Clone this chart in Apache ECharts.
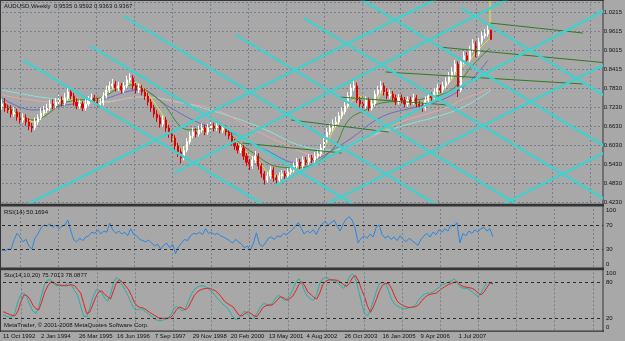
<!DOCTYPE html>
<html>
<head>
<meta charset="utf-8">
<script src="https://cdn.jsdelivr.net/npm/echarts@6/dist/echarts.min.js"></script>
<style>
  html, body { margin: 0; padding: 0; background: #a8a8a8; }
  #chart { width: 625px; height: 341px; }
</style>
</head>
<body>
<div id="chart"></div>
<script>
// weekly AUDUSD, one candle every 5 weeks, x = weeks since 11 Oct 1992
const dateLabels = ['11 Oct 1992', '2 Jan 1994', '26 Mar 1995', '16 Jun 1996', '7 Sep 1997', '29 Nov 1998',
  '20 Feb 2000', '13 May 2001', '4 Aug 2002', '26 Oct 2003', '16 Jan 2005', '9 Apr 2006', '1 Jul 2007'];
const priceTicks = ['0.4230', '0.4830', '0.5430', '0.6030', '0.6630', '0.7230', '0.7830', '0.8415', '0.9015', '0.9615', '1.0215'];
const rsiTicks = [0, 30, 70, 100];
const stoTicks = [0, 20, 80, 100];
const lastQuote = [0.9535, 0.9592, 0.9363, 0.9367];

const firstOpen = 0.727;
const closes = [0.733,0.720,0.714,0.701,0.708,0.692,0.682,0.689,0.676,0.663,
  0.657,0.676,0.689,0.704,0.714,0.720,0.733,0.727,0.739,0.745,
  0.736,0.752,0.771,0.758,0.739,0.727,0.733,0.720,0.733,0.745,
  0.752,0.742,0.733,0.736,0.758,0.777,0.790,0.796,0.783,0.790,
  0.777,0.790,0.809,0.815,0.790,0.777,0.783,0.771,0.758,0.739,
  0.720,0.701,0.689,0.670,0.682,0.657,0.638,0.625,0.600,0.581,
  0.562,0.587,0.613,0.632,0.644,0.638,0.651,0.657,0.644,0.657,
  0.663,0.657,0.663,0.651,0.657,0.644,0.632,0.613,0.600,0.587,
  0.594,0.568,0.549,0.537,0.556,0.568,0.537,0.512,0.493,0.505,
  0.524,0.499,0.493,0.505,0.512,0.505,0.518,0.524,0.537,0.549,
  0.537,0.556,0.549,0.562,0.556,0.568,0.575,0.594,0.619,0.644,
  0.657,0.670,0.676,0.695,0.708,0.727,0.758,0.783,0.790,0.745,
  0.733,0.727,0.745,0.720,0.733,0.764,0.777,0.790,0.771,0.758,
  0.764,0.752,0.739,0.752,0.745,0.733,0.745,0.739,0.752,0.733,
  0.727,0.720,0.745,0.758,0.752,0.771,0.783,0.777,0.790,0.802,
  0.821,0.834,0.859,0.777,0.866,0.885,0.872,0.904,0.923,0.891,
  0.929,0.948,0.954,0.967,0.9367];
const highs = [0.748,0.752,0.731,0.729,0.722,0.718,0.707,0.703,0.700,0.688,
  0.673,0.690,0.700,0.720,0.727,0.734,0.746,0.748,0.752,0.761,
  0.757,0.768,0.784,0.782,0.768,0.750,0.746,0.742,0.748,0.758,
  0.766,0.762,0.752,0.750,0.770,0.790,0.804,0.812,0.806,0.803,
  0.800,0.802,0.822,0.830,0.824,0.799,0.797,0.793,0.782,0.768,
  0.749,0.730,0.713,0.699,0.696,0.692,0.667,0.650,0.634,0.610,
  0.592,0.600,0.625,0.646,0.658,0.656,0.664,0.672,0.667,0.670,
  0.677,0.674,0.676,0.673,0.669,0.666,0.654,0.642,0.622,0.610,
  0.606,0.603,0.578,0.559,0.568,0.584,0.577,0.546,0.520,0.517,
  0.536,0.533,0.508,0.517,0.524,0.521,0.530,0.537,0.549,0.562,
  0.559,0.567,0.566,0.574,0.572,0.580,0.588,0.606,0.631,0.657,
  0.671,0.684,0.692,0.707,0.722,0.740,0.770,0.796,0.806,0.800,
  0.756,0.744,0.757,0.753,0.745,0.776,0.790,0.805,0.800,0.782,
  0.778,0.774,0.762,0.764,0.763,0.755,0.757,0.756,0.765,0.761,
  0.743,0.737,0.757,0.771,0.769,0.783,0.797,0.794,0.803,0.817,
  0.834,0.849,0.872,0.868,0.878,0.899,0.897,0.917,0.938,0.931,
  0.942,0.962,0.970,0.985,0.9592];
const lows = [0.715,0.708,0.704,0.690,0.693,0.680,0.671,0.674,0.664,0.650,
  0.643,0.650,0.667,0.682,0.696,0.705,0.712,0.716,0.719,0.730,
  0.725,0.728,0.744,0.748,0.728,0.716,0.718,0.710,0.712,0.726,
  0.738,0.732,0.722,0.724,0.728,0.750,0.768,0.782,0.772,0.774,
  0.766,0.768,0.782,0.800,0.778,0.766,0.768,0.760,0.746,0.728,
  0.708,0.690,0.676,0.658,0.661,0.645,0.626,0.612,0.588,0.566,
  0.545,0.555,0.580,0.605,0.624,0.627,0.630,0.642,0.634,0.636,
  0.648,0.646,0.648,0.640,0.642,0.633,0.621,0.602,0.588,0.576,
  0.578,0.556,0.537,0.524,0.528,0.547,0.525,0.500,0.478,0.484,
  0.496,0.487,0.478,0.484,0.496,0.494,0.497,0.509,0.516,0.529,
  0.527,0.529,0.539,0.541,0.546,0.547,0.560,0.567,0.586,0.611,
  0.635,0.648,0.660,0.668,0.686,0.700,0.720,0.750,0.774,0.736,
  0.722,0.716,0.718,0.710,0.712,0.726,0.756,0.768,0.760,0.748,
  0.750,0.742,0.729,0.731,0.735,0.722,0.724,0.729,0.731,0.722,
  0.716,0.708,0.712,0.737,0.741,0.744,0.762,0.767,0.769,0.782,
  0.795,0.813,0.826,0.755,0.770,0.858,0.862,0.865,0.896,0.880,
  0.884,0.921,0.940,0.946,0.9363];

const rsi = [28,27,30,29,45,56,50,42,46,35, 30,48,55,65,70,68,72,66,70,64,
  68,70,78,60,45,42,48,44,50,52, 58,56,62,55,60,58,73,62,56,60,
  55,58,52,64,54,52,46,44,42,45, 40,35,38,30,36,40,32,38,22,34,
  40,46,44,52,56,55,58,54,64,56, 58,54,56,52,50,47,44,40,46,42,
  38,32,35,28,40,57,38,34,40,48, 50,46,52,50,56,54,58,62,68,74,
  64,55,60,57,62,54,65,72,76,70, 74,78,68,60,72,80,84,78,64,40,
  48,52,48,55,50,66,70,54,48,52, 46,50,44,52,46,42,48,44,40,36,
  46,52,56,50,58,54,62,58,64,60, 70,68,74,40,56,52,60,56,62,58,
  64,66,60,64,50.17];
const stoMain = [26,24,22,22,30,48,60,62,55,42, 32,28,40,60,78,84,84,77,74,75,
  74,76,78,74,66,58,40,24,22,36, 54,66,68,62,54,48,60,80,88,84,
  74,66,56,44,36,34,36,34,30,26, 22,18,16,16,18,20,24,34,40,36,
  32,36,48,60,68,72,74,74,72,68, 64,58,52,46,42,38,30,22,18,20,
  28,32,26,20,20,28,38,44,44,42, 44,52,58,56,50,52,58,68,80,86,
  78,64,56,52,50,60,78,86,88,86, 84,82,80,74,70,78,90,94,86,66,
  46,28,24,34,50,66,78,80,78,66, 52,44,40,38,36,36,38,38,42,50,
  56,60,62,62,64,68,72,76,78,80, 82,86,80,72,70,70,68,64,60,56,
  62,72,80,80,75.7];
const stoSignal = [31,29,27,25,24,32,48,59,58,52, 42,36,34,48,64,74,81,80,76,75,
  75,74,75,76,74,68,62,45,28,30, 42,55,64,66,60,56,52,66,80,84,
  80,74,68,58,46,40,38,37,34,30, 27,24,21,20,20,20,21,26,34,39,
  37,34,38,48,58,64,67,69,70,70, 68,66,62,56,49,45,42,39,32,25,
  24,28,31,28,24,23,30,38,41,42, 42,46,52,56,54,50,53,57,66,76,
  81,74,64,60,55,52,62,76,82,84, 84,84,83,80,76,73,79,88,91,82,
  68,56,40,30,40,52,66,75,78,78, 70,58,48,44,41,39,38,39,39,42,
  48,54,58,60,61,62,66,70,73,76, 78,80,81,76,73,72,71,70,67,62,
  59,64,72,79,78.1];

// moving averages, [week, price]
const maAqua = [[0,0.777],[63.5,0.755],[108.6,0.745],[163.7,0.739],[235.6,0.755],[302.4,0.736],[385.9,0.692],
  [442.7,0.651],[497.8,0.603],[553,0.587],[609.8,0.628],[664.9,0.660],[748.4,0.704],[786.9,0.736],[820.3,0.777]];
const maPink = [[0,0.761],[108.6,0.736],[163.7,0.736],[230.5,0.755],[292.4,0.739],[359.2,0.714],[414.3,0.660],
  [469.4,0.610],[528,0.572],[609.8,0.619],[664.9,0.673],[748.4,0.723],[770.1,0.745],[820.3,0.783]];
const maSlate = [[0,0.752],[51.8,0.714],[108.6,0.730],[163.7,0.745],[230.5,0.777],[280.7,0.723],[330.8,0.673],
  [385.9,0.641],[442.7,0.587],[497.8,0.546],[525,0.556],[581.4,0.619],[636.5,0.692],[693.3,0.723],[748.4,0.755],
  [786.9,0.809],[815.3,0.872]];
const maGreen = [[0,0.745],[51.8,0.682],[108.6,0.739],[163.7,0.752],[213.8,0.793],[263.9,0.745],[314.1,0.651],
  [355.9,0.657],[414.3,0.587],[464.4,0.534],[497.8,0.531],[553,0.587],[581.4,0.682],[609.8,0.714],[636.5,0.736],
  [693.3,0.745],[748.4,0.771],[770.1,0.809],[786.9,0.850],[818.6,0.910]];
const maYellow = [[0,0.727],[30.1,0.695],[55.1,0.676],[80.2,0.720],[108.6,0.752],[130.3,0.739],[155.4,0.739],
  [180.4,0.777],[205.5,0.790],[222.2,0.802],[247.2,0.758],[272.3,0.689],[300.7,0.587],[322.4,0.638],[355.9,0.660],
  [380.9,0.638],[406,0.587],[431,0.549],[456.1,0.505],[481.1,0.512],[506.2,0.546],[531.3,0.568],[556.3,0.651],
  [581.4,0.727],[598.1,0.758],[623.2,0.733],[639.9,0.771],[664.9,0.752],[698.3,0.733],[723.4,0.758],[748.4,0.796],
  [765.1,0.840],[781.8,0.866],[798.5,0.904],[818.6,0.941]];

// drawn objects: turquoise channel lattice and green trend lines, [[week, price], [week, price]]
const cyanLines = [
  [[35.1,0.8719],[481.1,0.3661]],
  [[148.7,0.9162],[631.5,0.3680]],
  [[203.8,1.0111],[781.8,0.3547]],
  [[392.6,0.9510],[932.2,0.3383]],
  [[506.2,1.0047],[1065.8,0.3693]],
  [[598.1,1.0680],[1065.8,0.5368]],
  [[770.1,1.0363],[1065.8,0.6952]],
  [[30.1,0.4040],[731.7,1.0680]],
  [[289.0,0.5147],[848.7,1.0654]],
  [[459.4,0.4767],[1065.8,1.0850]],
  [[544.6,0.4167],[1065.8,0.9099]],
  [[840.3,0.4167],[1065.8,0.6317]]
];
const greenLines = [
  [[818.6,0.9889],[974.0,0.9573]],
  [[731.7,0.9131],[1015.7,0.8625]],
  [[643.2,0.8340],[974.0,0.7961]],
  [[564.7,0.7550],[748.4,0.7297]],
  [[484.5,0.6823],[648.2,0.6443]],
  [[402.6,0.6095],[569.7,0.5779]]
];
const spike = [[818.6,0.985],[818.6,1.07]];
const marker = [[847,0.7992]];

const FONT = 'Liberation Sans';
const TXT = '#111';
const candles = closes.map((c, i) => [i * 5, i ? closes[i - 1] : firstOpen, c, lows[i], highs[i]]);
const perWeek = arr => arr.map((v, i) => [i * 5, v]);

const gridLine = { color: '#76838f', type: [2, 2], width: 1 };
const levelLine = { color: '#2a2a2a', type: [3, 3], width: 1 };
const vGrid = [];
for (let k = 0; k < 16; k++) vGrid.push({ xAxis: 30 + 63.8 * k });

function gridSeries(idx, levels) {
  return {
    type: 'line', xAxisIndex: idx, yAxisIndex: idx, data: [], silent: true, z: 1,
    markLine: {
      silent: true, symbol: 'none', animation: false, label: { show: false }, lineStyle: gridLine,
      data: vGrid.concat((levels || []).map(v => ({ yAxis: v, lineStyle: levelLine })))
    }
  };
}
function lineSeries(data, color, width, z, extra) {
  return Object.assign({
    type: 'line', xAxisIndex: 0, yAxisIndex: 0, data: data, showSymbol: false, symbol: 'none',
    silent: true, z: z, lineStyle: { color: color, width: width }
  }, extra || {});
}
// MT4 keeps the 100 and 0 labels inside the sub-window, so they sit 5 units in
function insetLabel(ticks) {
  return v => {
    if (v === 95) return ticks.includes(100) ? '100' : '';
    if (v === 5) return ticks.includes(0) ? '0' : '';
    if (v === 0 || v === 100) return '';
    return ticks.includes(v) ? String(v) : '';
  };
}

const xBase = { type: 'value', min: 0, max: 1004, interval: 63.5, splitLine: { show: false },
  axisLine: { show: false }, axisTick: { show: false } };
const yLabel = { margin: 3, fontSize: 6, color: TXT, fontFamily: FONT };

const series = [
  gridSeries(0),
  gridSeries(1, [70, 30]),
  gridSeries(2, [80, 20]),
  lineSeries(maAqua, '#86e6d8', 1, 2, { smooth: 0.4 }),
  lineSeries(maPink, '#eaa6a6', 1, 2, { smooth: 0.4 }),
  lineSeries(maSlate, '#6c6cc4', 1, 2, { smooth: 0.4 }),
  lineSeries(maGreen, '#3f8a2c', 1, 2, { smooth: 0.4 }),
  lineSeries(maYellow, '#e4e43a', 1, 2, { smooth: 0.3 }),
  {
    type: 'candlestick', xAxisIndex: 0, yAxisIndex: 0, data: candles, barWidth: 1.6, z: 3, silent: true,
    itemStyle: { color: '#ffffff', color0: '#e00000', borderColor: '#ffffff', borderColor0: '#e00000', borderWidth: 1 },
    markLine: {
      silent: true, symbol: 'none', animation: false, lineStyle: { opacity: 0 },
      data: [{ yAxis: lastQuote[3] }],
      label: { position: 'end', distance: 1, formatter: lastQuote[3].toFixed(4), color: '#dde4e8',
        backgroundColor: '#2e3f4b', padding: [1, 1, 0, 1], fontSize: 6, fontFamily: FONT }
    }
  },
  lineSeries(spike, '#c9c96a', 2, 4)
];
greenLines.forEach(seg => series.push(lineSeries(seg, '#2f7a22', 1, 4)));
cyanLines.forEach(seg => series.push(lineSeries(seg, '#45cfcc', 2.5, 5)));
series.push({
  type: 'scatter', xAxisIndex: 0, yAxisIndex: 0, data: marker, symbolSize: 1, z: 6, silent: true,
  itemStyle: { opacity: 0 },
  label: { show: true, position: 'inside', formatter: '0', color: '#d42a2a', fontSize: 8, fontFamily: FONT }
});
series.push({ type: 'line', xAxisIndex: 1, yAxisIndex: 1, data: perWeek(rsi), symbol: 'none', silent: true, z: 3,
  lineStyle: { color: '#2b86e2', width: 1 } });
series.push({ type: 'line', xAxisIndex: 2, yAxisIndex: 2, data: perWeek(stoMain), symbol: 'none', silent: true, z: 3,
  lineStyle: { color: '#22b0a8', width: 1 } });
series.push({ type: 'line', xAxisIndex: 2, yAxisIndex: 2, data: perWeek(stoSignal), symbol: 'none', silent: true, z: 4,
  lineStyle: { color: '#e82020', width: 1 } });

const titleStyle = { fontSize: 6, fontWeight: 'normal', color: TXT, fontFamily: FONT };
const frame = '#353535';

const option = {
  animation: false,
  backgroundColor: '#a8a8a8',
  title: [
    { text: 'AUDUSD,Weekly  ' + lastQuote.map(v => v.toFixed(4)).join(' '), left: 4, top: 3, padding: 0, textStyle: titleStyle },
    { text: 'RSI(14) 50.1694', left: 4, top: 209, padding: 0, textStyle: titleStyle },
    { text: 'Sto(14,10,20) 75.7013 78.0877', left: 4, top: 272, padding: 0, textStyle: titleStyle },
    { text: 'MetaTrader, © 2001-2008 MetaQuotes Software Corp.', left: 4, top: 322, padding: 0, textStyle: titleStyle }
  ],
  grid: [
    { left: 2, right: 22, top: 2, height: 200 },
    { left: 2, right: 22, top: 207, height: 60 },
    { left: 2, right: 22, top: 270.3, height: 60 }
  ],
  xAxis: [
    Object.assign({ gridIndex: 0, axisLabel: { show: false } }, xBase),
    Object.assign({ gridIndex: 1, axisLabel: { show: false } }, xBase),
    Object.assign({ gridIndex: 2, axisLabel: { show: true, align: 'left', margin: 3, fontSize: 6, color: TXT,
      fontFamily: FONT, formatter: (v, i) => dateLabels[i] || '' } }, xBase)
  ],
  yAxis: [
    { gridIndex: 0, type: 'value', position: 'right', min: 0.423, max: 1.0553, interval: 0.06,
      axisLine: { show: false }, axisTick: { show: false }, splitLine: { show: true, lineStyle: gridLine },
      axisLabel: Object.assign({ formatter: (v, i) => priceTicks[i] || '' }, yLabel) },
    { gridIndex: 1, type: 'value', position: 'right', min: 0, max: 100, interval: 5,
      axisLine: { show: false }, axisTick: { show: false }, splitLine: { show: false },
      axisLabel: Object.assign({ formatter: insetLabel(rsiTicks) }, yLabel) },
    { gridIndex: 2, type: 'value', position: 'right', min: 0, max: 100, interval: 5,
      axisLine: { show: false }, axisTick: { show: false }, splitLine: { show: false },
      axisLabel: Object.assign({ formatter: insetLabel(stoTicks) }, yLabel) }
  ],
  graphic: [
    { type: 'rect', silent: true, shape: { x: 0, y: 0, width: 604, height: 1 }, style: { fill: frame } },
    { type: 'rect', silent: true, shape: { x: 0, y: 0, width: 1, height: 332 }, style: { fill: frame } },
    { type: 'rect', silent: true, shape: { x: 602.5, y: 0, width: 1, height: 332 }, style: { fill: frame } },
    { type: 'rect', silent: true, shape: { x: 0, y: 203.8, width: 604, height: 2.6 }, style: { fill: frame } },
    { type: 'rect', silent: true, shape: { x: 0, y: 267.6, width: 604, height: 2.6 }, style: { fill: frame } },
    { type: 'rect', silent: true, shape: { x: 0, y: 330.6, width: 604, height: 1.2 }, style: { fill: frame } }
  ],
  series: series
};

const chart = echarts.init(document.getElementById('chart'));
chart.setOption(option);
</script>
</body>
</html>
